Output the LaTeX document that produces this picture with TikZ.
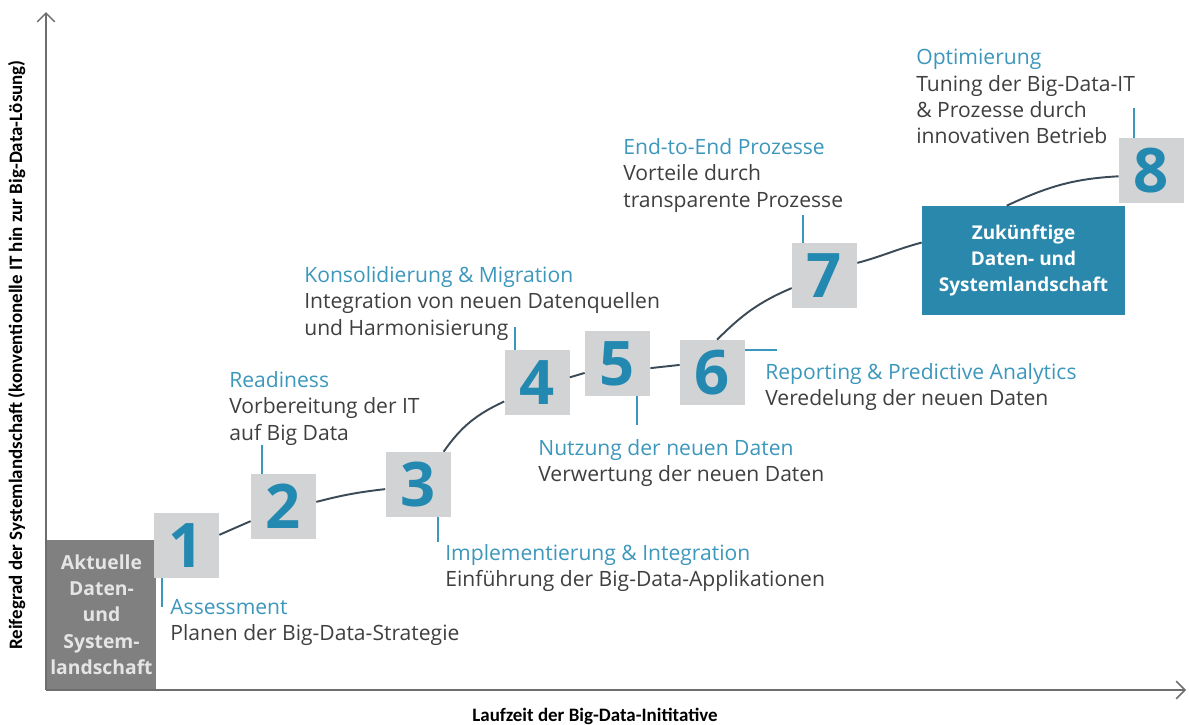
\documentclass[tikz,border=0pt]{standalone}
\usepackage{fontspec}
\setmainfont{Open Sans}
\newfontfamily\axisfont{Carlito}
\usetikzlibrary{arrows.meta,positioning,calc}
\definecolor{stepteal}{HTML}{2389B0}
\definecolor{labelteal}{HTML}{3C97BC}
\definecolor{bodygray}{HTML}{3F3F3F}
\definecolor{boxgray}{HTML}{D2D3D5}
\definecolor{oldgray}{HTML}{808080}
\definecolor{newteal}{HTML}{2A88AD}
\definecolor{curvegray}{HTML}{3A4B57}
\definecolor{axisgray}{HTML}{6E6E6E}
\newcommand{\phase}[2]{{\color{labelteal}#1}\\#2}
\begin{document}
\begin{tikzpicture}
 [x=0.02cm,y=0.02cm,
 stepbox/.style={fill=boxgray,minimum size=1.3cm,inner sep=0pt,text=stepteal,
  font=\fontsize{35}{35}\selectfont\bfseries},
 phaselabel/.style={anchor=north west,align=left,inner sep=0pt,text=bodygray,
  font=\fontsize{12}{15}\selectfont},
 landbox/.style={inner sep=0pt,align=center},
 curve/.style={curvegray,line width=1.1pt},
 leader/.style={labelteal,line width=1.1pt},
 axis/.style={axisgray,line width=0.9pt,-{Straight Barb[length=5pt,width=10pt]}},
 axislabel/.style={inner sep=0pt,font=\axisfont\fontsize{10.8}{12}\selectfont\bfseries}]
\useasboundingbox (0,0) rectangle (1189,-724);

\coordinate (origin) at (46,-690);
\coordinate (ytop) at (46,-12);
\coordinate (xend) at (1186,-690);
\draw[axis] (origin) -- (ytop);
\draw[axis] (origin) -- (xend);
\node[axislabel,anchor=base] (xlab) at (595,-721) {Laufzeit der Big-Data-Inititative};
\node[axislabel,rotate=90,anchor=base] (ylab) at (22,-355)
 {Reifegrad der Systemlandschaft (konventionelle IT hin zur Big-Data-Lösung)};

\node (old) at (101.5,-614.5)[landbox,fill=oldgray,text=white!90!black,
 minimum width=2.18cm,minimum height=2.98cm,font=\fontsize{11}{15}\selectfont\bfseries]
 {Aktuelle\\Daten-\\und\\System-\\landschaft};
\node (new) at (1023.5,-260.5)[landbox,fill=newteal,text=white,
 minimum width=4.06cm,minimum height=2.18cm,font=\fontsize{10.8}{15}\selectfont\bfseries]
 {Zukünftige\\Daten- und\\Systemlandschaft};

\node (s1) at (186.5,-545.5)[stepbox] {1};
\node (s2) at (283.5,-506.5)[stepbox] {2};
\node (s3) at (418,-484.5)[stepbox] {3};
\node (s4) at (537,-382.5)[stepbox] {4};
\node (s5) at (617.5,-363.5)[stepbox] {5};
\node (s6) at (712.5,-372.5)[stepbox] {6};
\node (s7) at (824.5,-275.5)[stepbox] {7};
\node (s8) at (1151.5,-170.5)[stepbox] {8};

\draw[curve] (s1.18) -- (s2.204);
\draw[curve] (s2.8) to[bend left=4] (s3.188);
\draw[curve] (s3.52) to[out=55,in=205] (s4.210);
\draw[curve] (s4.9) -- (s5.196);
\draw[curve] (s5.352) -- (s6.167);
\draw[curve] (s6.82) to[out=45,in=203] (s7.201);
\draw[curve] (s7.21) to[out=15,in=195] (new.170);
\draw[curve] (new.107) to[out=25,in=183] (s8.190);

\draw[leader] (s1.south west) ++(8,0) -- ++(0,-29);
\draw[leader] (s2.north west) ++(11,0) -- ++(0,29);
\draw[leader] (s3.south east) ++(-13,0) -- ++(0,-25);
\draw[leader] (s4.north west) ++(11,0) -- ++(0,23);
\draw[leader] (s5.south east) ++(-13,0) -- ++(0,-29);
\draw[leader] (s6.north east) ++(0,-10) -- ++(32,0);
\draw[leader] (s7.north west) ++(11,0) -- ++(0,28);
\draw[leader] (s8.north west) ++(15,0) -- ++(0,30);

\node (l1) at (170,-599)[phaselabel] {\phase{Assessment}{Planen der Big-Data-Strategie}};
\node (l2) at (229,-371)[phaselabel] {\phase{Readiness}{Vorbereitung der IT\\auf Big Data}};
\node (l3) at (445,-544)[phaselabel] {\phase{Implementierung \& Integration}{Einführung der Big-Data-Applikationen}};
\node (l4) at (304,-266)[phaselabel] {\phase{Konsolidierung \& Migration}{Integration von neuen Datenquellen\\und Harmonisierung}};
\node (l5) at (538,-439)[phaselabel] {\phase{Nutzung der neuen Daten}{Verwertung der neuen Daten}};
\node (l6) at (765,-363)[phaselabel] {\phase{Reporting \& Predictive Analytics}{Veredelung der neuen Daten}};
\node (l7) at (623,-138)[phaselabel] {\phase{End-to-End Prozesse}{Vorteile durch\\transparente Prozesse}};
\node (l8) at (916,-49)[phaselabel] {\phase{Optimierung}{Tuning der Big-Data-IT\\\& Prozesse durch\\innovativen Betrieb}};
\end{tikzpicture}
\end{document}
